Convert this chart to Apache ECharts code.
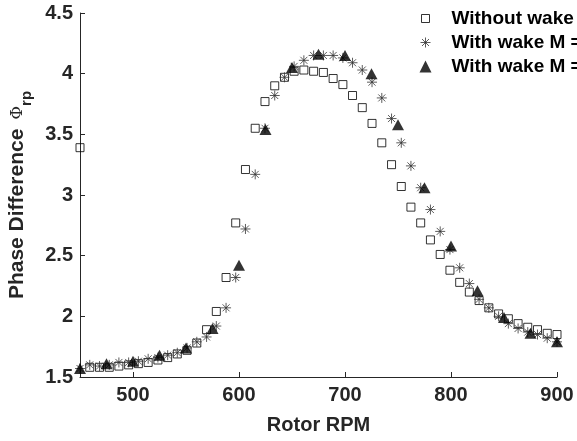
<!DOCTYPE html>
<html>
<head>
<meta charset="utf-8">
<script src="https://cdn.jsdelivr.net/npm/echarts@6/dist/echarts.min.js"></script>
<style>html,body{margin:0;padding:0;background:#fff;}#c{width:577px;height:441px;}</style>
</head>
<body>
<div id="c"></div>
<script>
// ---- data ----
const rpmFine = [450,459.2,468.4,477.6,486.7,495.9,505.1,514.3,523.5,532.7,541.8,551.0,560.2,569.4,578.6,587.8,596.9,606.1,615.3,624.5,633.7,642.9,652.0,661.2,670.4,679.6,688.8,698.0,707.1,716.3,725.5,734.7,743.9,753.1,762.2,771.4,780.6,789.8,799.0,808.2,817.3,826.5,835.7,844.9,854.1,863.3,872.4,881.6,890.8,900];
const withoutWake = [3.39,1.58,1.58,1.58,1.59,1.60,1.61,1.62,1.64,1.66,1.69,1.72,1.78,1.89,2.04,2.32,2.77,3.21,3.55,3.77,3.90,3.97,4.02,4.03,4.02,4.01,3.96,3.91,3.82,3.72,3.59,3.43,3.25,3.07,2.90,2.77,2.63,2.51,2.38,2.28,2.20,2.13,2.07,2.02,1.98,1.94,1.91,1.89,1.86,1.85];
const withWakeA = [1.57,1.60,1.59,1.60,1.62,1.62,1.63,1.65,1.66,1.68,1.70,1.74,1.79,1.83,1.92,2.07,2.32,2.72,3.17,3.55,3.82,3.97,4.06,4.11,4.15,4.15,4.15,4.13,4.09,4.03,3.93,3.80,3.63,3.43,3.24,3.06,2.88,2.70,2.55,2.40,2.27,2.14,2.07,2.00,1.94,1.90,1.87,1.85,1.82,1.79];
const rpmCoarse = [450,475,500,525,550,575,600,625,650,675,700,725,750,775,800,825,850,875,900];
const withWakeB = [1.57,1.61,1.63,1.68,1.74,1.90,2.42,3.54,4.05,4.16,4.15,4.00,3.58,3.06,2.58,2.21,1.99,1.86,1.79];
// the reference legend text is cut at the figure edge; the two wake labels read identically
const seriesNames = ['Without wake','With wake M =','With wake M = '];
const xTicks = [500,600,700,800,900];
const yMin = 1.5, yMax = 4.5, yStep = 0.5;
const xMin = 450, xMax = 900;

// ---- symbols ----
const squarePath = 'path://M0,0L0,0M12,12L12,12M2,2L10,2L10,10L2,10Z';
const starPath = 'path://M1,6L11,6M6,1L6,11M2.5,2.5L9.5,9.5M9.5,2.5L2.5,9.5';
const starLegend = 'path://M0,0L0,0M12,12L12,12M1,6L11,6M6,1L6,11M2.5,2.5L9.5,9.5M9.5,2.5L2.5,9.5';

const pair = (xs, ys) => xs.map((x, i) => [x, ys[i]]);
const font = 'Liberation Sans, Arial, Helvetica, sans-serif';
const ink = '#262626';

const chart = echarts.init(document.getElementById('c'), null, {renderer: 'canvas'});
chart.setOption({
  backgroundColor: '#fff',
  animation: false,
  grid: {left: 80, right: 20, top: 13, bottom: 64, containLabel: false, outerBoundsMode: 'none'},
  legend: {
    orient: 'vertical', left: 412, top: 4, itemWidth: 12, itemHeight: 12, itemGap: 5,
    selectedMode: false,
    formatter: n => '{t|' + n + '}',
    textStyle: {rich: {t: {fontFamily: font, fontWeight: 'bold', fontSize: 19, color: '#000', padding: [0,0,0,15]}}},
    data: [
      {name: seriesNames[0], icon: squarePath, itemStyle: {color: 'none', borderColor: '#000', borderWidth: 1}},
      {name: seriesNames[1], icon: starLegend, itemStyle: {color: 'none', borderColor: '#333', borderWidth: 1}},
      {name: seriesNames[2], icon: 'triangle', itemStyle: {color: '#000', borderWidth: 0}}
    ]
  },
  xAxis: {
    type: 'value', min: xMin, max: xMax,
    name: 'Rotor RPM', nameLocation: 'middle', nameGap: 38,
    nameTextStyle: {fontFamily: font, fontWeight: 'bold', fontSize: 20, color: ink},
    axisLine: {show: true, lineStyle: {color: ink, width: 1}},
    axisTick: {show: true, inside: true, length: 5, lineStyle: {color: ink}, customValues: xTicks},
    axisLabel: {fontFamily: font, fontWeight: 'bold', fontSize: 20, color: ink, margin: 8, customValues: xTicks},
    splitLine: {show: false}
  },
  yAxis: {
    type: 'value', min: yMin, max: yMax, interval: yStep,
    name: '{m|Phase Difference }{p|Φ}{s|rp}', nameLocation: 'middle', nameGap: 45, nameRotate: 90,
    nameTextStyle: {
      rich: {
        m: {fontFamily: font, fontWeight: 'bold', fontSize: 21, color: ink, lineHeight: 34, verticalAlign: 'middle'},
        p: {fontFamily: 'DejaVu Serif, serif', fontSize: 17, color: ink, lineHeight: 34, verticalAlign: 'middle', padding: [0,0,0,3]},
        s: {fontFamily: font, fontWeight: 'bold', fontSize: 15, color: ink, lineHeight: 15, verticalAlign: 'bottom'}
      }
    },
    axisLine: {show: true, lineStyle: {color: ink, width: 1}},
    axisTick: {show: true, inside: true, length: 5, lineStyle: {color: ink}},
    axisLabel: {fontFamily: font, fontWeight: 'bold', fontSize: 20, color: ink, margin: 7, formatter: v => String(v)},
    splitLine: {show: false}
  },
  series: [
    {name: seriesNames[0], type: 'scatter', data: pair(rpmFine, withoutWake), symbol: squarePath, symbolSize: 12,
     itemStyle: {color: 'none', borderColor: '#000', borderWidth: 1}, z: 2},
    {name: seriesNames[1], type: 'scatter', data: pair(rpmFine, withWakeA), symbol: starPath, symbolSize: 10,
     itemStyle: {color: 'none', borderColor: '#333', borderWidth: 1}, z: 3},
    {name: seriesNames[2], type: 'scatter', data: pair(rpmCoarse, withWakeB), symbol: 'triangle', symbolSize: [12, 11],
     itemStyle: {color: '#000'}, z: 4}
  ]
});
</script>
</body>
</html>
